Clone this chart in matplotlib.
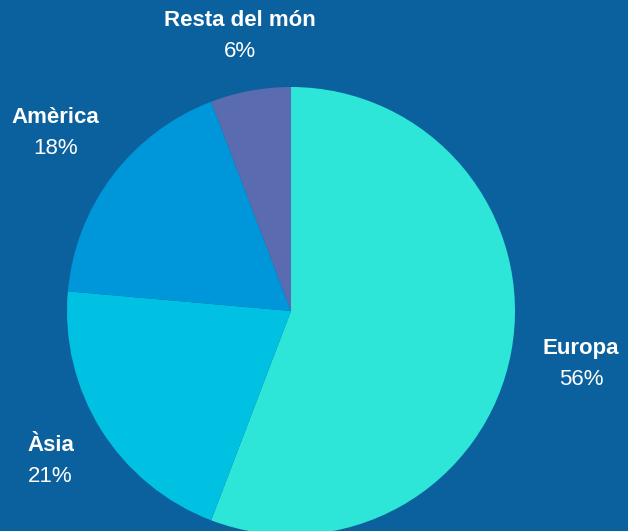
import matplotlib.pyplot as plt
import numpy as np

# regions and share of visitors (%)
regions = ["Europa", "Àsia", "Amèrica", "Resta del món"]
shares = [55.8, 20.6, 17.8, 5.8]
colors = ["#2de6d8", "#00c1e2", "#0096da", "#5a6bb0"]
bg = "#0b619d"

plt.rcParams['font.family'] = ['Liberation Sans', 'DejaVu Sans']

fig = plt.figure(figsize=(6.28, 5.31), dpi=100, facecolor=bg)
ax = fig.add_axes([0, 0, 1, 1])
ax.set_facecolor(bg)

wedges, _ = ax.pie(shares, colors=colors, startangle=90, counterclock=False,
                   radius=1, wedgeprops=dict(linewidth=0))

# view so the pie sits where it does in the original (224 px per unit)
px = 224.0
ax.set_xlim(-291 / px, 337 / px)
ax.set_ylim(-220 / px, 311 / px)
ax.axis('off')

fs = 16
sep = 31 / px          # distance between the two label lines
gap = 1.143            # label box edge sits this far from the centre
total = sum(shares)
fig.canvas.draw()
renderer = fig.canvas.get_renderer()
for w, name, v in zip(wedges, regions, shares):
    mid = np.deg2rad((w.theta1 + w.theta2) / 2)
    c, s = np.cos(mid), np.sin(mid)
    t1 = ax.text(0, 0, name, ha='center', va='center', color='white',
                 fontsize=fs, fontweight='bold')
    t2 = ax.text(0, 0, f"{v / total * 100:.0f}%", ha='center', va='center',
                 color='white', fontsize=fs)
    hw = max(t1.get_window_extent(renderer).width,
             t2.get_window_extent(renderer).width) / 2 / px
    hh = (sep * px + 0.716 * fs * 100 / 72) / 2 / px
    d = min(hw / max(abs(c), 1e-6), hh / max(abs(s), 1e-6))
    x = (gap + d) * c
    y = (gap + d) * s
    t1.set_position((x, y + sep / 2))
    t2.set_position((x, y - sep / 2))

fig.savefig("out.png", dpi=100, facecolor=bg)
